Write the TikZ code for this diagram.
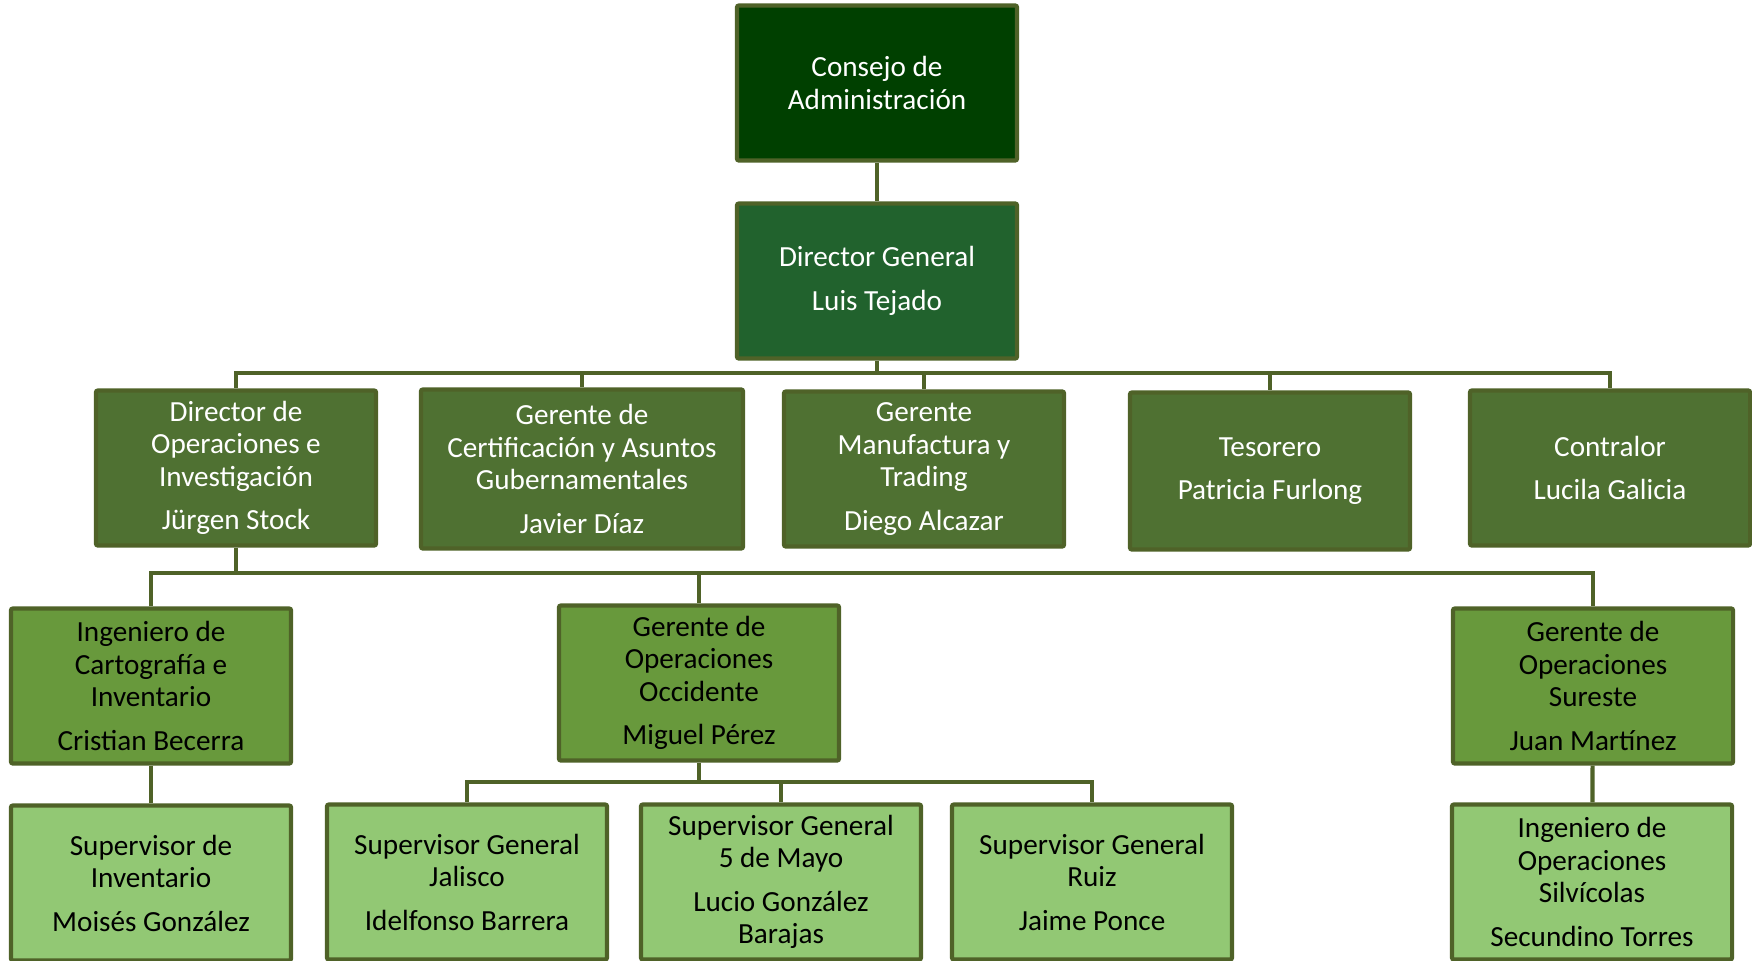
\documentclass[tikz,border=0pt]{standalone}
\usepackage{fontspec}
\setmainfont{Carlito}
\usepackage{tikz}
\usetikzlibrary{positioning}
\definecolor{borde}{RGB}{79,98,40}
\definecolor{nivel0}{RGB}{0,64,0}
\definecolor{nivel1}{RGB}{33,98,45}
\definecolor{nivel2}{RGB}{79,113,50}
\definecolor{nivel3}{RGB}{104,153,60}
\definecolor{nivel4}{RGB}{146,200,116}

\begin{document}
\begin{tikzpicture}[x=0.01cm,y=-0.01cm,
  caja/.style={draw=borde,line width=1.2pt,rounded corners=0.6pt,minimum width=2.8cm,minimum height=1.55cm,inner sep=0pt,align=center,font=\fontsize{8.3}{9.2}\selectfont},
  n0/.style={caja,fill=nivel0,text=white},
  n1/.style={caja,fill=nivel1,text=white},
  n2/.style={caja,fill=nivel2,text=white},
  n3/.style={caja,fill=nivel3,text=black},
  n4/.style={caja,fill=nivel4,text=black},
  linea/.style={draw=borde,line width=1.2pt}]
\useasboundingbox (0,0) rectangle (1752,960);
% consejo y director
\node[n0] (cons) at (877,83) {Consejo de\\Administración};
\node[n1] (dg) at (877,281) {Director General\\[3.2pt]Luis Tejado};
% segundo nivel
\node[n2] (dirop) at (236,468) {Director de\\Operaciones e\\Investigación\\[3.2pt]Jürgen Stock};
\node[n2,minimum width=3.22cm,minimum height=1.59cm] (gcert) at (582,469) {Gerente de\\Certificación y Asuntos\\Gubernamentales\\[3.2pt]Javier Díaz};
\node[n2] (gmanu) at (924,469) {Gerente\\Manufactura y\\Trading\\[3.2pt]Diego Alcazar};
\node[n2,minimum height=1.57cm] (tes) at (1270,471) {Tesorero\\[3.2pt]Patricia Furlong};
\node[n2] (contr) at (1610,468) {Contralor\\[3.2pt]Lucila Galicia};
% tercer nivel
\node[n3] (ingcart) at (151,686) {Ingeniero de\\Cartografía e\\Inventario\\[3.2pt]Cristian Becerra};
\node[n3] (gocc) at (699,683) {Gerente de\\Operaciones\\Occidente\\[3.2pt]Miguel Pérez};
\node[n3] (gsur) at (1593,686) {Gerente de\\Operaciones\\Sureste\\[3.2pt]Juan Martínez};
% cuarto nivel
\node[n4] (supinv) at (151,883) {Supervisor de\\Inventario\\[3.2pt]Moisés González};
\node[n4] (supjal) at (467,882) {Supervisor General\\Jalisco\\[3.2pt]Idelfonso Barrera};
\node[n4] (sup5) at (781,882) {Supervisor General\\5 de Mayo\\[3.2pt]Lucio González\\Barajas};
\node[n4] (supruiz) at (1092,882) {Supervisor General\\Ruiz\\[3.2pt]Jaime Ponce};
\node[n4] (ingsilv) at (1592,882) {Ingeniero de\\Operaciones\\Silvícolas\\[3.2pt]Secundino Torres};
% buses
\coordinate (b1) at (877,373);
\coordinate (b2) at (236,573);
\coordinate (b3) at (699,782);
\draw[linea](cons)--(dg);
\draw[linea](dg)--(b1);
\draw[linea](b1)-|(dirop.north);
\draw[linea](b1)-|(gcert.north);
\draw[linea](b1)-|(gmanu.north);
\draw[linea](b1)-|(tes.north);
\draw[linea](b1)-|(contr.north);
\draw[linea](dirop)--(b2);
\draw[linea](b2)-|(ingcart.north);
\draw[linea](b2)-|(gocc.north);
\draw[linea](b2)-|(gsur.north);
\draw[linea](gocc)--(b3);
\draw[linea](b3)-|(supjal.north);
\draw[linea](b3)-|(sup5.north);
\draw[linea](b3)-|(supruiz.north);
\draw[linea](ingcart)--(supinv);
\draw[linea](gsur)--(ingsilv);
\end{tikzpicture}
\end{document}
